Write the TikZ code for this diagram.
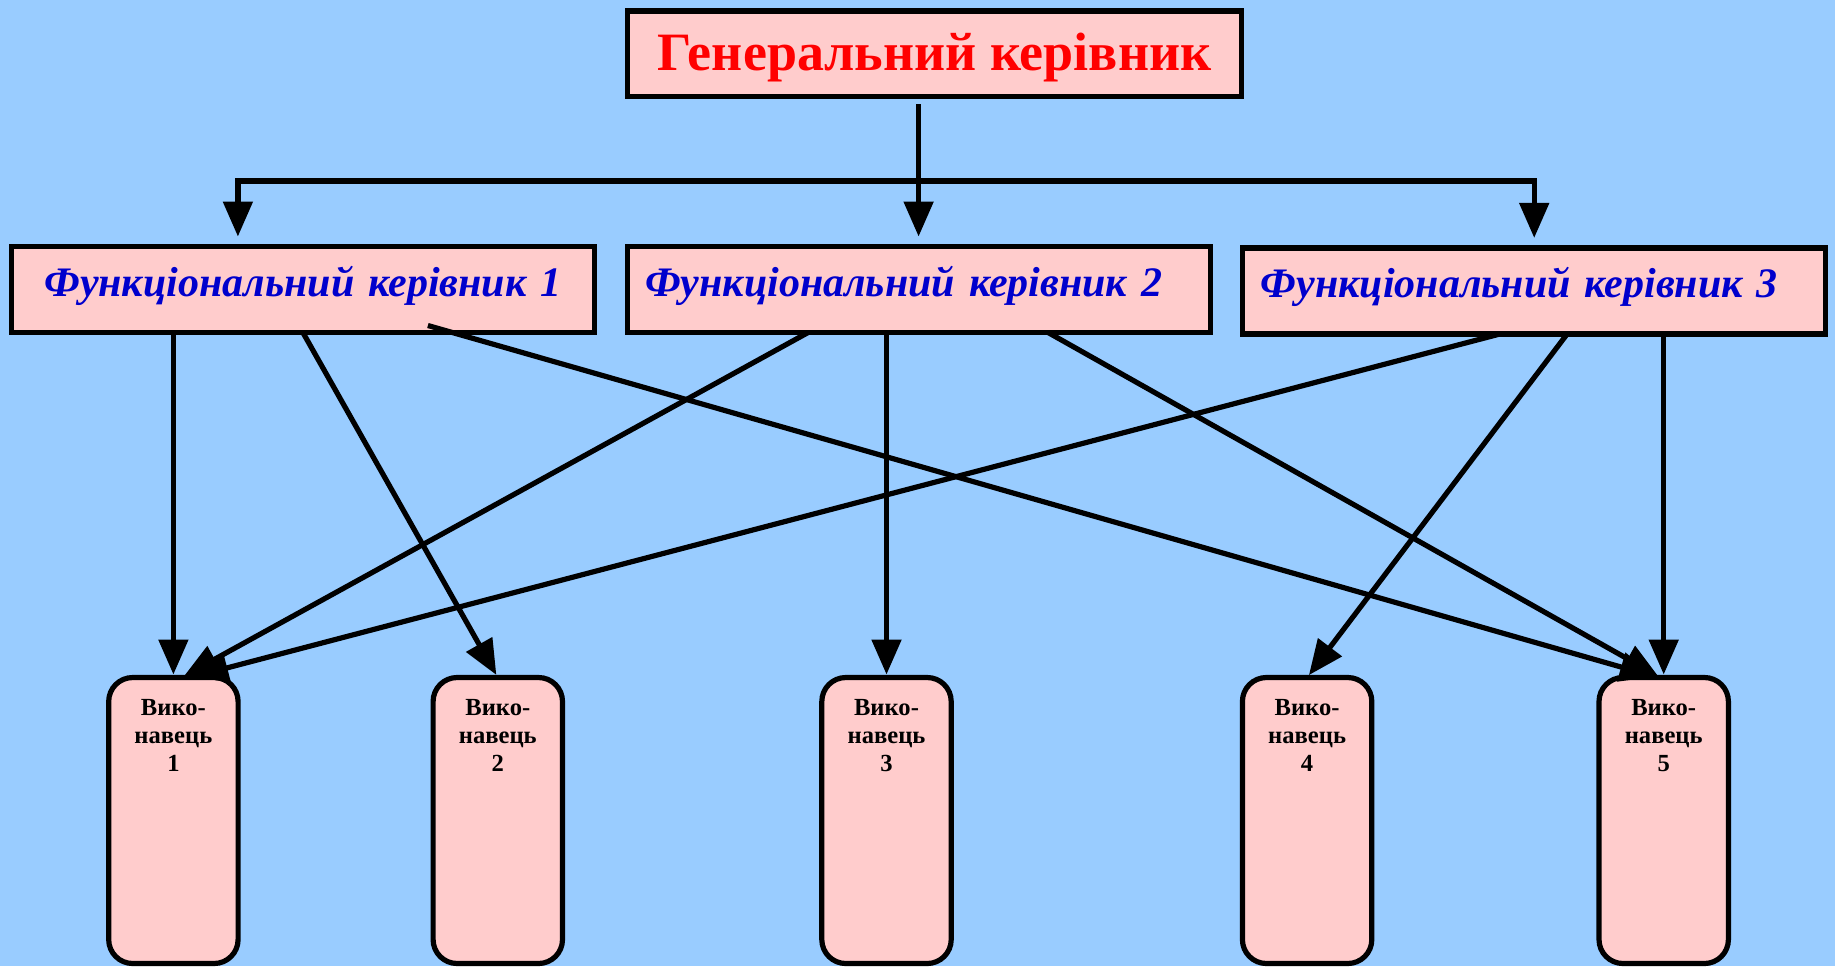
\documentclass[tikz,border=0pt]{standalone}
\usepackage{fontspec}
\setmainfont{Liberation Serif}
\usetikzlibrary{arrows.meta,calc}
\definecolor{OSky}{HTML}{99CCFF}
\definecolor{OPink}{HTML}{FFCCCC}
\definecolor{OBlue}{HTML}{0000CC}
\definecolor{ORed}{HTML}{FF0000}

\begin{document}
\begin{tikzpicture}[
  x=0.5pt,y=-0.5pt,
  box/.style={draw=black,line width=2.6pt,fill=OPink,outer sep=0pt},
  gen/.style={box,minimum width=306.8pt,minimum height=42.6pt,inner sep=0pt,
    text height=20pt,text depth=3.5pt,text=ORed,
    font=\fontsize{27}{30}\selectfont\bfseries},
  fk/.style={box,minimum width=291.5pt,minimum height=43pt,
    inner xsep=9pt,inner ysep=0pt,text width=273.5pt,align=left,
    text height=15pt,text depth=8pt,text=OBlue,
    font=\fontsize{21}{25}\selectfont\bfseries\itshape},
  ex/.style={box,rounded corners=12pt,anchor=north,minimum width=64.7pt,
    inner xsep=0pt,inner ysep=11pt,text width=64.7pt,align=center,
    text height=8.2pt,text depth=112.8pt,
    font=\fontsize{12.3}{13.9}\selectfont\bfseries},
  a/.style={-{Triangle[length=17.5pt,width=14.5pt]},line width=2.6pt,
    shorten >=1.5pt},
  aa/.style={{Triangle[length=17.5pt,width=14.5pt]}-{Triangle[length=17.5pt,width=14.5pt]},
    line width=2.6pt}
]
  \fill[OSky] (0,0) rectangle (1835,966);
  \useasboundingbox (0,0) rectangle (1835,966);

  \node[gen] (gen) at (934.6,53.6) {Генеральний керівник};
  \node[fk,align=center] (fk1) at (302.9,289.5) {Функціональний керівник 1};
  \node[fk] (fk2) at (918.6,289.5) {Функціональний керівник 2};
  \node[fk] (fk3) at (1534.2,290.9) {Функціональний керівник 3};

  \node[ex] (v1) at (173.4,677.5) {Вико-\\навець\\1};
  \node[ex] (v2) at (497.8,677.5) {Вико-\\навець\\2};
  \node[ex] (v3) at (886.5,677.5) {Вико-\\навець\\3};
  \node[ex] (v4) at (1307.1,677.5) {Вико-\\навець\\4};
  \node[ex] (v5) at (1663.7,677.5) {Вико-\\навець\\5};

  \coordinate (bus) at (918.6,181);
  \draw[a] ($(gen.south -| fk2.north)+(0,8)$) -- ($(fk2.north)+(0,-7)$);
  \draw[aa] ($(fk1.north)+(-65,-10)$) |- (bus) -| ($(fk3.north)+(0,-10)$);

  \draw[a] (fk1.south -| v1.north) -- (v1.north);
  \draw[a] (fk1.south) -- (v2.north);
  \draw[a] ($(fk1.south)+(125,-7)$) -- ($(v5.north)+(-6,0)$);
  \draw[a] ($(fk2.south)+(-110.5,0)$) -- ($(v1.north)+(8,0)$);
  \draw[a] (fk2.south -| v3.north) -- (v3.north);
  \draw[a] ($(fk2.south)+(129.5,0)$) -- ($(v5.north)+(-3,0)$);
  \draw[a] ($(fk3.south)+(-34,0)$) -- ($(v1.north)+(17,0)$);
  \draw[a] ($(fk3.south)+(33,0)$) -- (v4.north);
  \draw[a] (fk3.south -| v5.north) -- (v5.north);
\end{tikzpicture}
\end{document}
